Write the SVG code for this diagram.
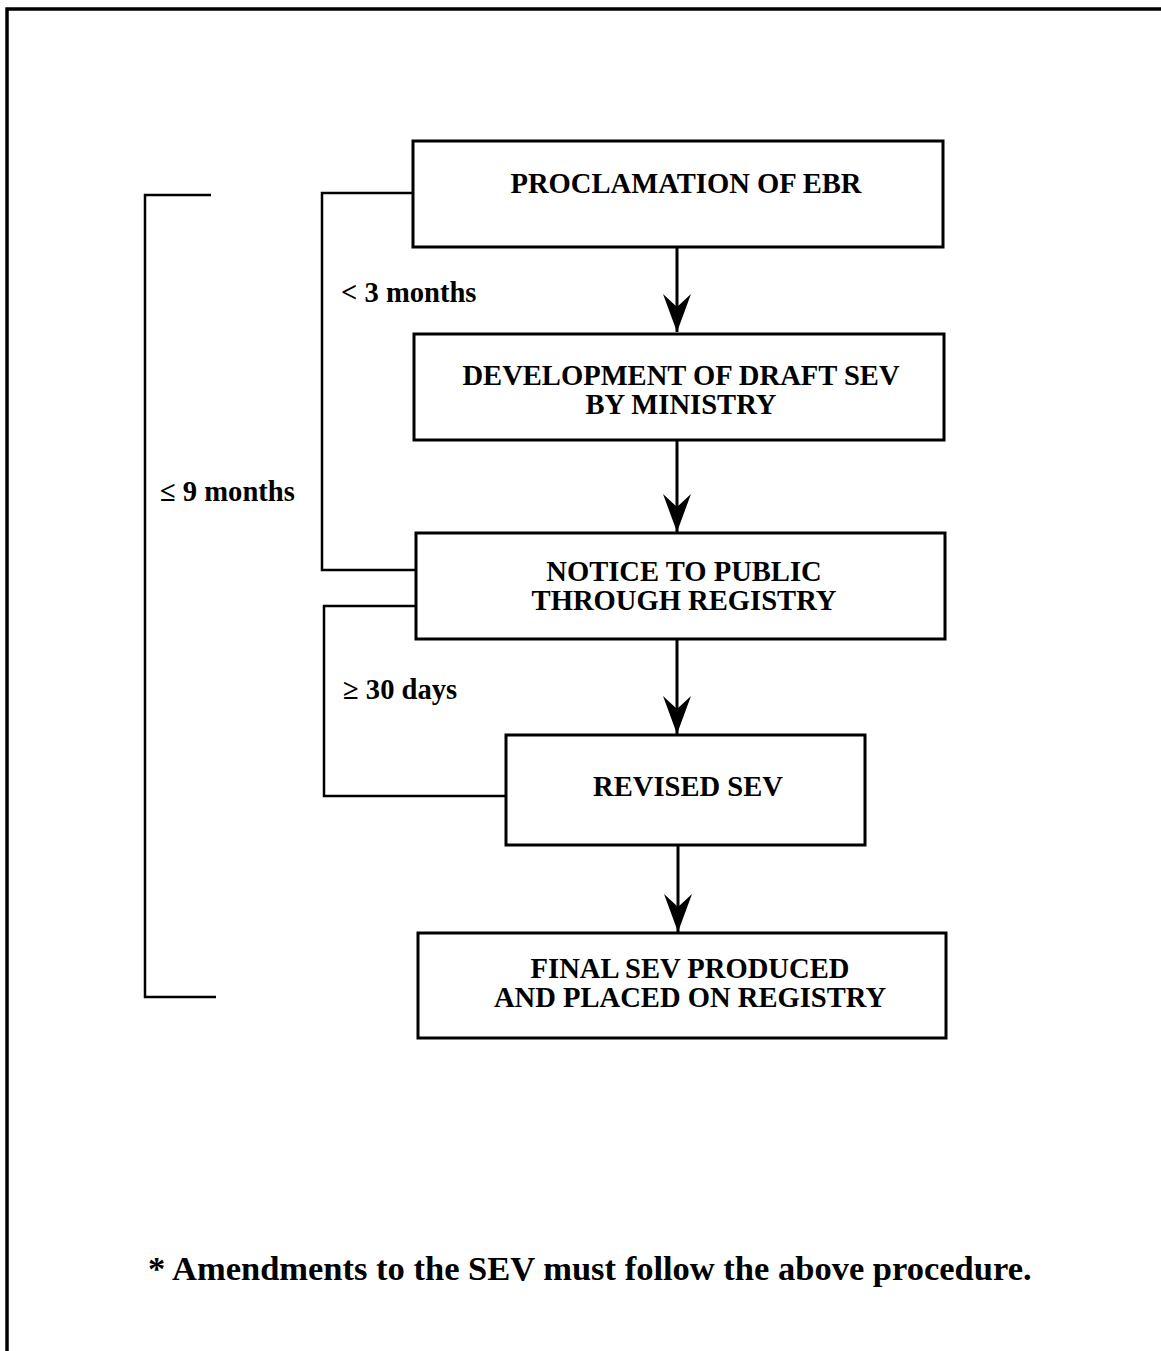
<svg xmlns="http://www.w3.org/2000/svg" width="1161" height="1351" viewBox="0 0 1161 1351">
<style>
.box{fill:#fff;stroke:#000;stroke-width:3}
.t{font-family:"Liberation Serif","Times New Roman",serif;font-weight:bold;font-size:28.6px;fill:#000;text-anchor:middle}
.l{font-family:"Liberation Serif","Times New Roman",serif;font-weight:bold;font-size:28.6px;fill:#000}
.ln{fill:none;stroke:#000;stroke-width:2.5}
.ar{fill:none;stroke:#000;stroke-width:3}
</style>
<defs>
<marker id="ah" markerUnits="userSpaceOnUse" viewBox="-40 -15 40 30" refX="0" refY="0" markerWidth="40" markerHeight="30" orient="auto">
<path d="M0,0 L-38,-14 L-25,0 L-38,14 Z" fill="#000"/>
</marker>
</defs>
<rect width="1161" height="1351" fill="#fff"/>
<g id="frame"><path d="M7,1351 V9 H1161" fill="none" stroke="#000" stroke-width="3.5"/></g>
<g id="connectors">
<path class="ar" d="M677,248 V332" marker-end="url(#ah)"/>
<path class="ar" d="M677,441 V532" marker-end="url(#ah)"/>
<path class="ar" d="M677,640 V734" marker-end="url(#ah)"/>
<path class="ar" d="M678,846 V932" marker-end="url(#ah)"/>
<path class="ln" d="M211,195 H145 V997 H216"/>
<path class="ln" d="M413,193 H322 V570 H416"/>
<path class="ln" d="M416,606 H324 V796 H506"/>
</g>
<g id="n1"><rect class="box" x="413" y="141" width="530" height="106"/><text class="t" x="686" y="193">PROCLAMATION OF EBR</text></g>
<g id="n2"><rect class="box" x="414" y="334" width="530" height="106"/><text class="t" x="681" y="385">DEVELOPMENT OF DRAFT SEV</text><text class="t" x="681" y="414">BY MINISTRY</text></g>
<g id="n3"><rect class="box" x="416" y="533" width="529" height="106"/><text class="t" x="684" y="581">NOTICE TO PUBLIC</text><text class="t" x="684" y="610">THROUGH REGISTRY</text></g>
<g id="n4"><rect class="box" x="506" y="735" width="359" height="110"/><text class="t" x="688" y="796">REVISED SEV</text></g>
<g id="n5"><rect class="box" x="418" y="933" width="528" height="105"/><text class="t" x="690" y="978">FINAL SEV PRODUCED</text><text class="t" x="690" y="1007">AND PLACED ON REGISTRY</text></g>
<g id="labels">
<text class="l" x="341" y="302">&lt; 3 months</text>
<text class="l" x="160" y="501">≤ 9 months</text>
<text class="l" x="343" y="699">≥ 30 days</text>
<text class="l" x="148" y="1280" style="font-size:34.5px">* Amendments to the SEV must follow the above procedure.</text>
</g>
</svg>
